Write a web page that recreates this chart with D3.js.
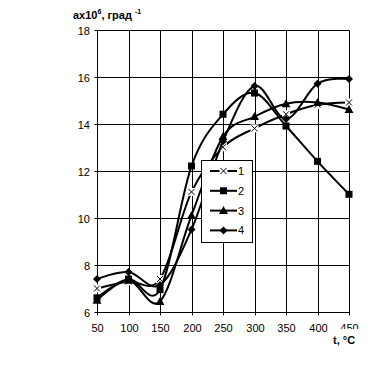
<!DOCTYPE html>
<html>
<head>
<meta charset="utf-8">
<script src="https://cdn.jsdelivr.net/npm/d3@7"></script>
<style>
  body { margin: 0; background: #fff; }
  svg { font-family: "Liberation Sans", Arial, sans-serif; }
</style>
</head>
<body>
<div id="chart"></div>
<script>
// data
const temps = [50, 100, 150, 200, 250, 300, 350, 400, 450];
const series1 = [7.0, 7.3, 7.4, 11.1, 13.0, 13.8, 14.4, 14.8, 14.9];
const series2 = [6.6, 7.4, 6.95, 12.2, 14.4, 15.3, 13.9, 12.4, 11.0];
const series3 = [6.5, 7.35, 6.45, 10.1, 13.45, 14.3, 14.85, 14.9, 14.6];
const series4 = [7.4, 7.7, 7.15, 9.5, 13.25, 15.6, 14.2, 15.7, 15.9];
const seriesNames = ['1', '2', '3', '4'];
const markers = ['cross', 'square', 'triangle', 'diamond'];
const yTicks = [6, 8, 10, 12, 14, 16, 18];

const w = 372, h = 376;

const svg = d3.select('#chart')
  .append('svg')
  .attr('width', w)
  .attr('height', h);

const x = d3.scaleLinear().domain([50, 450]).range([97, 349]);
const y = d3.scaleLinear().domain([6, 18]).range([312, 29.5]);
const px = v => Math.round(x(v)) + 0.5;
const py = v => Math.round(y(v)) + 0.5;

// grid
svg.append('g').selectAll('line.v')
  .data(temps)
  .enter().append('line')
  .attr('x1', d => px(d)).attr('x2', d => px(d))
  .attr('y1', py(18)).attr('y2', py(6) + 3)
  .attr('stroke', '#000');

svg.append('g').selectAll('line.h')
  .data(yTicks)
  .enter().append('line')
  .attr('x1', px(50) - 3).attr('x2', px(450))
  .attr('y1', d => py(d)).attr('y2', d => py(d))
  .attr('stroke', '#000');

// tick labels
svg.append('g').selectAll('text')
  .data(yTicks)
  .enter().append('text')
  .attr('x', 90)
  .attr('y', d => py(d) + 4)
  .attr('text-anchor', 'end')
  .attr('font-size', 11)
  .text(d => d);

svg.append('g').selectAll('text')
  .data(temps)
  .enter().append('text')
  .attr('x', d => px(d))
  .attr('y', 332)
  .attr('text-anchor', 'middle')
  .attr('font-size', 11)
  .text(d => d);

// axis titles
svg.append('rect').attr('x', 330).attr('y', 329).attr('width', 42).attr('height', 16).attr('fill', '#fff');
svg.append('text')
  .attr('x', 333).attr('y', 344)
  .attr('font-size', 11).attr('font-weight', 'bold')
  .text('t, °C');

const yt = svg.append('text')
  .attr('x', 73).attr('y', 19)
  .attr('font-size', 11).attr('font-weight', 'bold');
yt.append('tspan').text('ах10');
yt.append('tspan').attr('font-size', 7).attr('dy', -5).text('6');
yt.append('tspan').attr('dy', 5).text(', град ');
yt.append('tspan').attr('font-size', 7).attr('dy', -5).text('-1');

// lines
const allSeries = [series1, series2, series3, series4];
const line = d3.line()
  .x((d, i) => x(temps[i]))
  .y(d => y(d))
  .curve(d3.curveCardinal.tension(0));

function drawMarker(g, type, cx, cy) {
  if (type === 'cross') {
    g.append('path')
      .attr('d', `M${cx - 3},${cy - 3}L${cx + 3},${cy + 3}M${cx + 3},${cy - 3}L${cx - 3},${cy + 3}`)
      .attr('stroke', '#000').attr('stroke-width', 1);
  } else if (type === 'square') {
    g.append('rect').attr('x', cx - 3.5).attr('y', cy - 3.5).attr('width', 7).attr('height', 7).attr('fill', '#000');
  } else if (type === 'triangle') {
    g.append('path').attr('d', `M${cx},${cy - 4.5}L${cx + 4.5},${cy + 3.5}L${cx - 4.5},${cy + 3.5}Z`).attr('fill', '#000');
  } else {
    g.append('path').attr('d', `M${cx},${cy - 4}L${cx + 4},${cy}L${cx},${cy + 4}L${cx - 4},${cy}Z`).attr('fill', '#000');
  }
}

allSeries.forEach((s, k) => {
  const g = svg.append('g');
  g.append('path')
    .attr('d', line(s))
    .attr('fill', 'none')
    .attr('stroke', '#000')
    .attr('stroke-width', 2);
  s.forEach((v, i) => {
    if (markers[k] === 'cross') {
      g.append('rect').attr('x', x(temps[i]) - 4).attr('y', y(v) - 4).attr('width', 8).attr('height', 8).attr('fill', '#fff');
    }
    drawMarker(g, markers[k], x(temps[i]), y(v));
  });
});

// legend
const lg = svg.append('g');
lg.append('rect')
  .attr('x', 201.5).attr('y', 160.5).attr('width', 51).attr('height', 82)
  .attr('fill', '#fff').attr('stroke', '#000');
seriesNames.forEach((name, k) => {
  const ly = 171 + k * 19.8;
  lg.append('line').attr('x1', 210).attr('x2', 237).attr('y1', ly).attr('y2', ly)
    .attr('stroke', '#000').attr('stroke-width', 2);
  if (markers[k] === 'cross') {
    lg.append('rect').attr('x', 219.5).attr('y', ly - 4).attr('width', 8).attr('height', 8).attr('fill', '#fff');
  }
  drawMarker(lg, markers[k], 223.5, ly);
  lg.append('text').attr('x', 238).attr('y', ly + 4).attr('font-size', 11).text(name);
});
</script>
</body>
</html>
